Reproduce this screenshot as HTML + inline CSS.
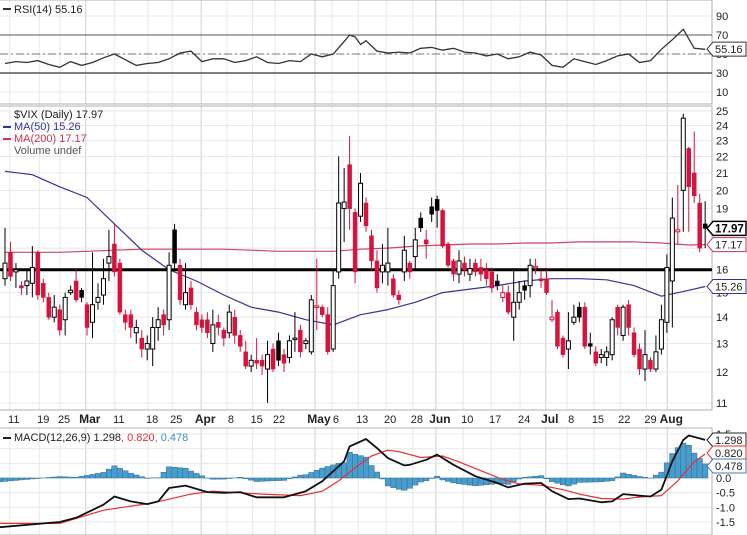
<!DOCTYPE html>
<html><head><meta charset="utf-8"><style>
body{margin:0;background:#fff}
svg{display:block;font-family:"Liberation Sans",sans-serif}
</style></head><body>
<svg id="c" width="747" height="535" viewBox="0 0 747 535" xmlns="http://www.w3.org/2000/svg"></svg>
<script>
const opens=[15.6,16.8,15.9,15.3,15.3,15.4,16.8,15.4,14.8,14.0,14.3,13.9,15.0,15.5,15.1,14.5,13.8,14.6,14.9,16.3,17.2,16.3,14.1,14.1,13.4,13.2,12.8,12.8,13.6,14.1,13.9,17.9,16.2,14.5,15.2,14.2,13.9,13.9,13.0,13.8,13.5,13.4,14.0,13.3,12.7,12.2,12.4,12.4,12.1,12.8,13.1,12.6,12.5,13.2,13.5,13.0,12.7,14.4,14.4,14.1,12.8,15.9,19.0,21.5,18.8,18.6,19.3,17.6,16.4,15.9,15.9,15.6,14.9,15.9,16.3,16.6,18.5,17.4,19.1,19.5,18.9,17.2,16.4,15.8,16.3,15.8,16.3,16.1,16.0,15.9,15.5,14.8,15.0,14.0,14.6,15.3,15.3,16.1,15.6,15.6,13.9,14.2,13.2,12.8,13.8,14.4,14.4,13.0,12.7,12.5,12.5,12.6,14.4,13.3,14.5,13.4,12.8,12.1,12.4,12.1,12.8,13.8,15.5,17.8,20.0,22.5,21.0,19.3,18.2];
const highs=[18.0,17.3,16.3,15.5,16.0,17.1,16.9,15.6,15.0,14.9,14.5,15.0,15.3,16.0,15.2,14.6,16.8,15.4,16.5,17.9,18.2,16.5,14.3,14.3,13.9,13.5,13.3,14.0,14.4,14.3,16.8,18.2,16.5,16.3,15.5,14.4,14.1,14.2,14.3,14.1,13.6,14.5,14.3,13.5,13.1,12.6,13.2,12.6,13.1,13.0,13.4,12.8,13.3,14.2,13.7,13.2,14.9,16.5,14.5,14.4,16.0,22.0,21.3,23.3,19.0,21.0,19.6,17.9,16.9,17.2,18.0,15.8,15.1,17.6,16.4,18.0,18.8,17.9,19.6,19.7,19.0,17.3,16.5,16.9,16.6,16.5,16.5,16.5,16.3,16.1,15.8,15.3,15.3,16.0,15.5,15.5,16.5,16.5,16.0,16.0,14.7,14.3,13.3,14.2,14.5,14.6,14.6,13.4,12.9,12.8,12.9,14.0,14.5,14.5,14.7,13.6,13.0,13.5,12.5,13.3,14.5,16.7,19.6,20.3,24.8,22.6,23.6,19.8,19.4];
const lows=[15.3,15.5,15.2,14.9,14.9,14.8,14.7,14.6,13.9,13.8,13.3,13.3,14.9,14.6,14.6,13.3,13.2,14.3,14.5,15.5,15.7,14.1,13.5,13.2,13.0,12.5,12.4,12.2,13.1,13.3,13.5,16.0,14.5,14.3,14.3,13.5,13.4,13.2,12.7,13.3,12.9,13.2,13.0,12.7,12.1,12.0,12.1,11.9,11.0,12.0,12.2,12.0,12.3,12.7,12.5,12.8,12.6,13.5,14.0,12.6,12.7,15.6,17.3,17.9,15.4,18.3,17.8,16.0,15.0,15.4,15.3,14.8,14.5,15.5,15.6,16.0,17.8,16.5,18.3,18.0,17.0,16.1,15.5,15.4,15.7,15.5,15.7,15.5,15.3,15.0,15.1,14.6,14.1,13.1,14.3,14.7,14.8,15.8,15.2,14.9,13.8,12.8,12.5,12.1,13.7,13.8,12.8,12.6,12.2,12.3,12.2,12.4,13.3,13.1,13.3,12.5,11.9,11.7,12.0,12.0,12.6,13.4,13.6,17.2,17.8,17.8,19.3,16.8,17.0];
const closes=[16.3,15.7,16.0,15.2,15.5,16.1,14.9,14.8,14.0,14.4,13.5,14.8,15.1,14.7,14.8,13.6,14.5,14.8,15.6,16.6,15.9,14.2,13.8,13.6,13.6,12.8,13.0,13.6,13.9,13.7,16.2,16.3,14.7,15.0,14.5,13.7,13.6,13.4,13.7,13.6,13.2,14.2,13.3,12.9,12.2,12.4,12.3,12.2,12.6,12.1,12.4,12.3,13.1,13.2,12.7,13.1,14.7,14.45,14.1,12.7,15.3,19.3,19.35,19.0,15.9,20.4,18.1,16.4,15.2,16.2,16.3,14.9,14.7,16.9,15.9,17.4,18.0,17.2,18.7,18.9,17.1,16.2,15.8,16.4,16.0,16.05,15.9,15.8,15.6,15.2,15.3,15.0,14.2,14.6,15.0,15.1,16.2,16.15,15.5,15.0,14.0,12.9,12.6,13.1,14.0,14.0,12.9,12.9,12.3,12.6,12.7,13.9,13.6,14.4,13.6,12.6,12.1,12.6,12.1,12.7,13.9,16.1,18.5,17.9,24.5,20.2,19.7,17.0,17.97];
const maIdx=[0,5,10,15,20,25,30,35,40,45,50,55,60,65,70,75,80,85,90,95,100,105,110,115,120,125,128];
const ma50=[21.1,20.9,20.2,19.6,18.2,16.9,16.0,15.5,14.9,14.4,14.2,13.9,13.7,14.1,14.3,14.6,15.0,15.15,15.3,15.5,15.6,15.6,15.55,15.3,14.85,15.1,15.26];
const ma200=[16.8,16.8,16.8,16.85,16.9,16.95,16.95,16.95,16.95,16.9,16.85,16.85,16.85,16.95,17.0,17.1,17.15,17.2,17.2,17.25,17.25,17.3,17.3,17.3,17.25,17.15,17.17];
const rsiIdx=[0,2,4,6,8,10,12,14,16,18,20,22,24,26,28,30,32,34,36,38,40,42,44,46,48,50,52,54,56,58,60,62,63,64,65,66,68,70,72,74,76,78,80,82,84,86,88,90,92,94,96,98,100,102,104,106,108,110,112,114,116,118,120,122,124,126,128];
const rsiVal=[40,42,41,43,39,36,42,38,41,46,50,44,38,40,41,45,51,53,42,45,45,41,43,47,41,40,43,42,50,47,50,63,70,68,60,64,53,51,52,51,56,57,54,56,52,51,48,50,45,47,52,49,38,36,45,42,39,43,48,50,41,43,55,65,76,56,55];
const macdIdx=[-1,10,13,18,20,23,26,28,30,33,37,40,43,46,51,55,58,62,63,66,68,70,73,74,77,79,82,86,90,92,95,98,100,103,105,109,111,113,116,118,120,122,124,125,128];
const macdVal=[-1.68,-1.5,-1.36,-0.91,-0.63,-0.8,-0.89,-0.8,-0.34,-0.26,-0.48,-0.51,-0.48,-0.66,-0.66,-0.45,-0.11,0.57,1.08,1.33,1.02,0.68,0.43,0.45,0.62,0.8,0.45,0.06,-0.17,-0.32,-0.19,-0.17,-0.45,-0.72,-0.7,-0.83,-0.8,-0.55,-0.6,-0.63,-0.4,0.57,1.3,1.45,1.3];
const sigIdx=[-1,10,18,27,34,38,47,54,58,61,64,67,70,72,76,80,83,87,91,94,98,102,105,109,113,116,120,123,126,128];
const sigVal=[-1.55,-1.55,-1.1,-0.85,-0.55,-0.45,-0.55,-0.6,-0.45,-0.1,0.35,0.75,0.95,0.9,0.7,0.75,0.55,0.25,-0.05,-0.2,-0.25,-0.4,-0.55,-0.7,-0.72,-0.65,-0.6,-0.1,0.55,0.82];
const dateLabels=["11","19","25","Mar","11","18","25","Apr","8","15","22","May","6","13","20","28","Jun","10","17","24","Jul","8","15","22","29","Aug"];
const dateIdx=[1.6,7,10.8,15.5,20.8,26.9,31.3,36.6,41.3,46,50.1,57.4,60.5,65.3,70.4,75.3,79.5,84.5,89.6,94.9,99.6,103.5,108.4,113.2,118,121.8];
const priceTicks=[11,12,13,14,15,16,17,18,19,20,21,22,23,24,25];
const rsiTicks=[90,70,50,30,10];
const macdTicks=[1.5,1.0,0.5,0.0,-0.5,-1.0,-1.5];

const R=712;
const xi=i=>5+i*5.47;
const yP=p=>111+(Math.log(25)-Math.log(p))*355.6;
const yR=v=>35+(70-v)*0.95;
const yM=v=>478-v*29.3;
const svg=document.getElementById('c');
const NS='http://www.w3.org/2000/svg';
function mk(tag,attrs,parent){const e=document.createElementNS(NS,tag);for(const k in attrs)e.setAttribute(k,attrs[k]);(parent||svg).appendChild(e);return e;}
function lerp(ix,vals,i){if(i<=ix[0])return vals[0];for(let k=1;k<ix.length;k++){if(i<=ix[k]){const t=(i-ix[k-1])/(ix[k]-ix[k-1]);return vals[k-1]+t*(vals[k]-vals[k-1]);}}return vals[vals.length-1];}

const grid=mk('g',{});


dateIdx.forEach((d,k)=>{const x=xi(d)-4;const month=isNaN(+dateLabels[k]);
 [[0,104],[106,410],[428,535]].forEach(([a,b])=>{mk('line',{x1:x,x2:x,y1:a,y2:b,stroke:month?'#cfcfcf':'#e8e8e8','stroke-width':1},grid);});});
priceTicks.forEach(p=>{mk('line',{x1:0,x2:R,y1:yP(p),y2:yP(p),stroke:'#e8e8e8'},grid);});
rsiTicks.forEach(v=>{mk('line',{x1:0,x2:R,y1:yR(v),y2:yR(v),stroke:'#e8e8e8'},grid);});
macdTicks.forEach(v=>{mk('line',{x1:0,x2:R,y1:yM(v),y2:yM(v),stroke:'#e8e8e8'},grid);});
[[0,0,R,104],[0,106,R,410],[0,428,R,535]].forEach(([x1,y1,x2,y2])=>{mk('rect',{x:x1-1,y:y1,width:x2-x1+1,height:y2-y1,fill:'none',stroke:'#b0b0b0'},grid);});

function txt(x,y,s,attrs){const t=mk('text',Object.assign({x:x,y:y,'font-size':11,fill:'#222'},attrs||{}));t.textContent=s;return t;}
priceTicks.forEach(p=>{const t=txt(716,yP(p)+4,String(p));});
rsiTicks.forEach(v=>{const t=txt(716,yR(v)+4,String(v));});
macdTicks.forEach(v=>{const t=txt(716,yM(v)+4,v.toFixed(1));});
dateLabels.forEach((s,k)=>{const month=isNaN(+s);const t=txt(xi(dateIdx[k]),423,s,{'text-anchor':'middle','font-weight':month?'bold':'normal','font-size':month?12:11});});

mk('line',{x1:0,x2:R,y1:yR(70),y2:yR(70),stroke:'#555'});
mk('line',{x1:0,x2:R,y1:yR(30),y2:yR(30),stroke:'#555','stroke-width':1.5});
mk('line',{x1:0,x2:R,y1:yR(50),y2:yR(50),stroke:'#777','stroke-dasharray':'8,3,2,3'});
let d='';rsiIdx.forEach((i,k)=>{d+=(k?'L':'M')+xi(i).toFixed(1)+','+yR(rsiVal[k]).toFixed(1);});
const rl=mk('path',{d:d,fill:'none',stroke:'#333','stroke-width':1.3});



function maPath(vals,color,name){let s='';maIdx.forEach((i,k)=>{s+=(k?'L':'M')+xi(i).toFixed(1)+','+yP(vals[k]).toFixed(1);});const p=mk('path',{d:s,fill:'none',stroke:color,'stroke-width':1.2,'stroke-linejoin':'round'});}
maPath(ma200,'#cc4466','ma200-line');
maPath(ma50,'#333399','ma50-line');
const hl=mk('line',{x1:0,x2:R,y1:yP(16),y2:yP(16),stroke:'#000','stroke-width':3});



const cg=mk('g',{});


closes.forEach((c,i)=>{const o=opens[i];const prev=i?closes[i-1]:o;const col=c<prev?'#d4143f':'#000';const filled=c<o;
 const x=xi(i);
 mk('line',{x1:x,x2:x,y1:yP(highs[i]),y2:yP(lows[i]),stroke:col,'stroke-width':1},cg);
 const top=yP(Math.max(o,c)),bot=yP(Math.min(o,c));
 const b=mk('rect',{x:x-2,y:top,width:4,height:Math.max(1.5,bot-top),fill:filled?col:'#fff',stroke:col,'stroke-width':filled?0.5:1},cg);
 
 
});

const hg=mk('g',{});


for(let i=-1;i<closes.length;i++){const h=lerp(macdIdx,macdVal,i)-lerp(sigIdx,sigVal,i);const y0=yM(0),y1=yM(h);
 const r=mk('rect',{x:xi(i)-2.7,y:Math.min(y0,y1),width:5.47,height:Math.abs(y1-y0),fill:'#4a9ccc',stroke:'#2a6f99','stroke-width':0.5},hg);
 
 }
function mline(ix,vals,color,wd,name){let s='';ix.forEach((i,k)=>{s+=(k?'L':'M')+Math.max(0,xi(i)).toFixed(1)+','+yM(vals[k]).toFixed(1);});const p=mk('path',{d:s,fill:'none',stroke:color,'stroke-width':wd,'stroke-linejoin':'round'});}
mline(sigIdx,sigVal,'#e83030',1.2,'macd-signal-line');
mline(macdIdx,macdVal,'#111',1.8,'macd-line');

function tag(y,s,color,bold,name){const g=mk('g',{});
 mk('path',{d:`M707,${y} L713,${y-7} L746,${y-7} L746,${y+7} L713,${y+7} Z`,fill:'#fff',stroke:color,'stroke-width':bold?1.5:1},g);
 const t=mk('text',{x:715,y:y+4,'font-size':bold?11.5:11,fill:bold?'#000':'#222','font-weight':bold?'bold':'normal'},g);t.textContent=s;}
tag(yR(55.16),'55.16','#333',false,'rsi-value-tag');
tag(yP(17.97),'17.97','#000',true,'price-value-tag');
tag(yP(17.17),'17.17','#cc3355',false,'ma200-value-tag');
tag(yP(15.26),'15.26','#333399',false,'ma50-value-tag');
tag(440,'1.298','#222',false,'macd-value-tag');
tag(453,'0.820','#e03030',false,'signal-value-tag');
tag(466,'0.478','#4a7ab0',false,'histogram-value-tag');

function leg(y,parts,name){const t=mk('text',{x:14,y:y,'font-size':11});parts.forEach(([s,c])=>{const sp=mk('tspan',{fill:c},t);sp.textContent=s;});}
leg(13,[['RSI(14) 55.16','#222']],'rsi-legend');
leg(118,[['$VIX (Daily) 17.97','#222']],'price-legend');
leg(130,[['MA(50) 15.26','#333399']],'ma50-legend');
leg(142,[['MA(200) 17.17','#cc3355']],'ma200-legend');
leg(154,[['Volume undef','#555']],'volume-legend');
leg(441,[['MACD(12,26,9) 1.298','#222'],[', 0.820','#e03030'],[', 0.478','#3a90c8']],'macd-legend');
[[8,'#333'],[126,'#333399'],[138,'#cc3355'],[437,'#222']].forEach(([y,c])=>{mk('rect',{x:3,y:y,width:8,height:2,fill:c});});
</script>
</body></html>
